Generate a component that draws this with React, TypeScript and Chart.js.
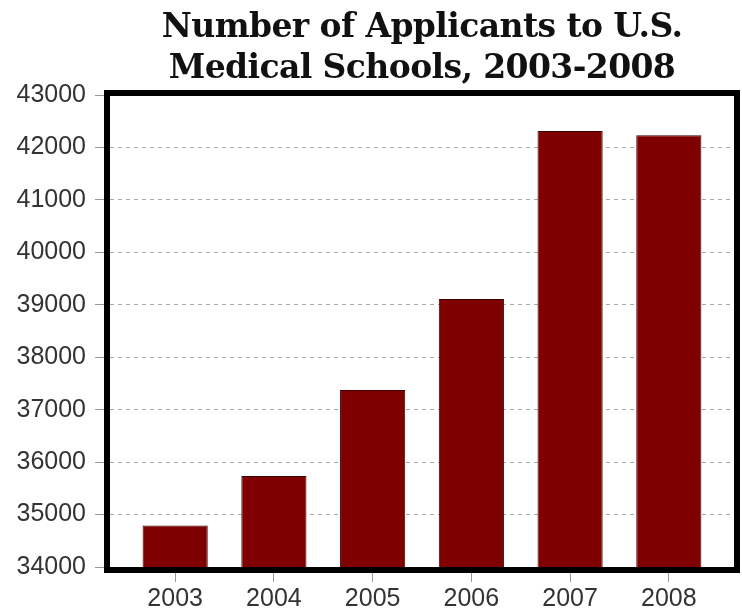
import React, { useEffect, useRef } from "react";
import { Chart, registerables } from "chart.js";

Chart.register(...registerables);

const years = ["2003", "2004", "2005", "2006", "2007", "2008"];
const applicants = [34791, 35735, 37373, 39108, 42315, 42231];
const titleLines = ["Number of Applicants to U.S.", "Medical Schools, 2003-2008"];
const yMin = 34000;
const yMax = 43000;
const yStep = 1000;

const framePlugin = {
  id: "frameAndTitle",
  afterDatasetsDraw(chart: any) {
    const { ctx, chartArea } = chart;
    ctx.save();
    ctx.strokeStyle = "#000";
    ctx.lineWidth = 6;
    ctx.strokeRect(
      chartArea.left - 3,
      chartArea.top - 2,
      chartArea.right - chartArea.left + 6,
      chartArea.bottom - chartArea.top + 5
    );
    ctx.restore();
  },
  afterDraw(chart: any) {
    const { ctx, chartArea } = chart;
    ctx.save();
    ctx.fillStyle = "#111";
    ctx.font = "bold 33px 'DejaVu Serif'";
    try {
      (ctx as any).letterSpacing = "-0.6px";
    } catch (e) {}
    ctx.textAlign = "center";
    ctx.textBaseline = "alphabetic";
    const cx = (chartArea.left + chartArea.right) / 2;
    ctx.fillText(titleLines[0], cx, 37);
    ctx.fillText(titleLines[1], cx, 78);
    ctx.restore();
  },
};

export default function App() {
  const ref = useRef<HTMLCanvasElement | null>(null);
  useEffect(() => {
    if (!ref.current) return;
    const chart = new Chart(ref.current, {
      type: "bar",
      data: {
        datasets: [
          {
            data: applicants.map((v, i) => ({ x: i, y: v })),
            backgroundColor: "#7f0000",
            borderColor: "#3d0000",
            borderWidth: 1,
            barPercentage: 0.66,
            categoryPercentage: 1,
          },
        ],
      },
      options: {
        responsive: false,
        animation: false,
        layout: { padding: { top: 95, right: 8, left: 0, bottom: 0 } },
        plugins: { legend: { display: false }, tooltip: { enabled: false }, title: { display: false } },
        scales: {
          x: {
            type: "linear",
            min: -0.66,
            max: 5.66,
            offset: false,
            afterBuildTicks: (scale: any) => {
              scale.ticks = years.map((_, i) => ({ value: i }));
            },
            afterFit: (scale: any) => {
              scale.height = 46;
            },
            ticks: {
              callback: (v: any) => years[v] ?? "",
              color: "#333",
              font: { family: "'Liberation Sans', Arial", size: 25 },
              padding: 2,
              maxRotation: 0,
              autoSkip: false,
            },
            grid: {
              offset: false,
              drawOnChartArea: false,
              drawTicks: true,
              tickLength: 15,
              tickColor: "#999",
            },
            border: { display: false },
          },
          y: {
            min: yMin,
            max: yMax,
            afterFit: (scale: any) => {
              scale.width = 110;
            },
            ticks: {
              stepSize: yStep,
              callback: (v: any) => String(v),
              color: "#333",
              font: { family: "'Liberation Sans', Arial", size: 25 },
              padding: 9,
            },
            grid: {
              color: "#aaa",
              lineWidth: 1,
              tickLength: 15,
              tickColor: "#999",
              tickBorderDash: [],
            },
            border: { display: false, dash: [4, 4] },
          },
        },
      },
      plugins: [framePlugin],
    } as any);
    return () => chart.destroy();
  }, []);
  return (
    <div style={{ position: "fixed", left: 0, top: 0, width: 742, height: 613, background: "#fff" }}>
      <canvas ref={ref} width={742} height={613} style={{ width: 742, height: 613 }} />
    </div>
  );
}
